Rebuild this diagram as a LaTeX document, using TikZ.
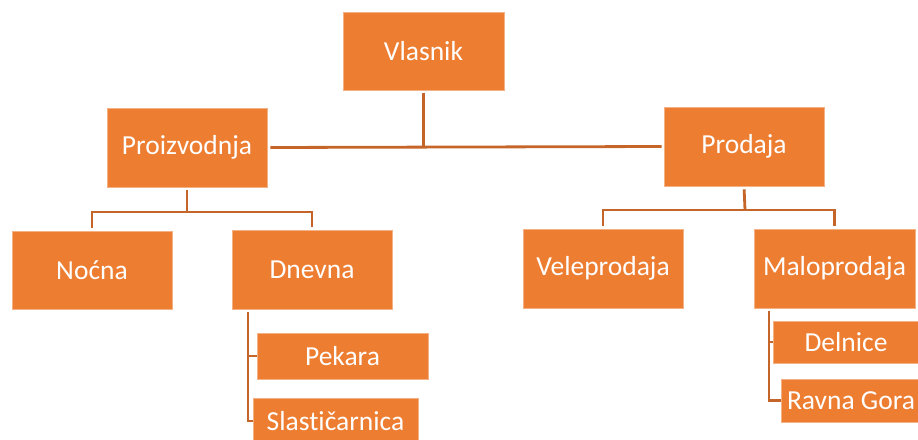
\documentclass[tikz,border=0pt]{standalone}
\usepackage{fontspec}
\setmainfont[Ligatures=NoCommon]{Carlito}
\definecolor{boxfill}{HTML}{ED7D31}
\definecolor{boxedge}{HTML}{F4B183}
\definecolor{linecol}{HTML}{C5652A}
\begin{document}
\begin{tikzpicture}[x=1pt,y=-1pt,
  box/.style={rectangle, fill=boxfill, draw=boxedge, line width=0.6pt, text=white,
     font=\fontsize{27.5}{30}\selectfont, inner sep=0pt, anchor=center},
  conn/.style={draw=linecol, line width=2.8pt}]
\useasboundingbox (0,0) rectangle (918,439);
\node[box, minimum width=161pt, minimum height=78pt] (vl) at (423.5,51) {Vlasnik};
\node[box, minimum width=160pt, minimum height=79pt] (pz) at (187,147.5) {Proizvodnja};
\node[box, minimum width=160pt, minimum height=79pt] (pd) at (744,146.5) {Prodaja};
\node[box, minimum width=160pt, minimum height=78pt] (nc) at (92,270) {Noćna};
\node[box, minimum width=160pt, minimum height=79pt] (dn) at (312,269.5) {Dnevna};
\node[box, minimum width=160pt, minimum height=79pt] (vp) at (603,268.5) {Veleprodaja};
\node[box, minimum width=161pt, minimum height=79pt] (mp) at (834.5,268.5) {Maloprodaja};
\node[box, minimum width=171pt, minimum height=46pt] (pk) at (342.5,356) {Pekara};
\node[box, minimum width=165pt, minimum height=46pt] (sl) at (335.5,421) {Slastičarnica};
\node[box, minimum width=146pt, minimum height=42pt] (dl) at (846,342) {Delnice};
\node[box, minimum width=140pt, minimum height=43pt] (rg) at (851,400.5) {Ravna Gora};
% top level
\coordinate (vlb) at (423.5,147);
\draw[conn, shorten <=3pt] (vl.south) -- (vlb);
\draw[conn, shorten <=3pt, shorten >=2pt] (pz.east) -- (pd.west);
% Proizvodnja
\coordinate (pzb) at (187,212);
\draw[conn, shorten <=3pt] (pz.south) -- (pzb);
\draw[conn, shorten <=3pt, shorten >=3pt] (nc.north) -- (nc.north |- pzb) -- (dn.north |- pzb) -- (dn.north);
% Prodaja
\coordinate (pdb) at (745,210);
\draw[conn, shorten <=3pt] (pd.south) -- (pdb);
\draw[conn, shorten <=3pt, shorten >=3pt] (vp.north) -- (vp.north |- pdb) -- (mp.north |- pdb) -- (mp.north);
% Dnevna
\coordinate (dnl) at (248,312);
\draw[conn] (dnl) -- (dnl |- sl.west) -- (sl.west);
\draw[conn] (dnl |- pk.west) -- (pk.west);
% Maloprodaja
\coordinate (mpl) at (769,311);
\draw[conn] (mpl) -- (mpl |- rg.west) -- (rg.west);
\draw[conn] (mpl |- dl.west) -- (dl.west);
\end{tikzpicture}
\end{document}
